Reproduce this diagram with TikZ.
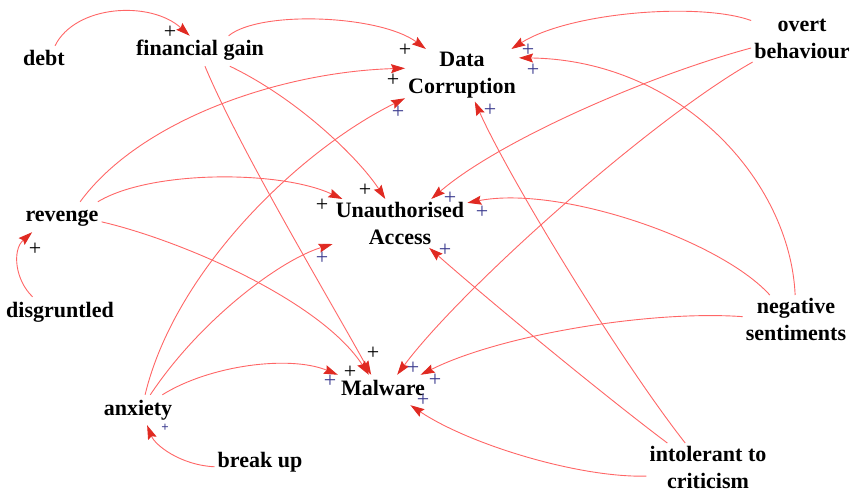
\documentclass[tikz,border=0pt]{standalone}
\usepackage{fontspec}
\setmainfont{Liberation Serif}
\usetikzlibrary{arrows.meta}
\usepackage{xcolor}
\definecolor{cldlink}{HTML}{FF6666}
\definecolor{cldhead}{HTML}{E02A22}
\definecolor{cldpos}{HTML}{3B3B8F}

\begin{document}
\begin{tikzpicture}[
    x=1pt, y=-1pt,
    cld-var/.style={font=\fontsize{22}{27}\selectfont\bfseries,
        inner xsep=3pt, inner ysep=5pt, text height=15pt, text depth=5pt, anchor=base},
    cld-var2/.style={font=\fontsize{22}{27}\selectfont\bfseries, align=center,
        inner xsep=3pt, inner ysep=3pt, anchor=north},
    cld-link/.style={draw=cldlink, line width=0.9pt,
        -{Stealth[length=14pt, width=9pt, inset=2pt, color=cldhead]}},
    cld-sign/.style={font=\fontsize{22}{22}\selectfont, inner sep=0pt},
    cld-sign-b/.style={cld-sign, text=cldpos},
]
    \useasboundingbox (0,0) rectangle (852,492);

    % ---- NODES: variables ----
    \node[cld-var] (debt) at (44,66) {debt};
    \node[cld-var] (fgain) at (200,56) {financial gain};
    \node[cld-var2] (dc) at (462,49) {Data\\Corruption};
    \node[cld-var2] (ob) at (802,16) {overt\\behaviour};
    \node[cld-var] (rev) at (62,222) {revenge};
    \node[cld-var2] (ua) at (400,199) {Unauthorised\\Access};
    \node[cld-var] (dis) at (60,317) {disgruntled};
    \node[cld-var2] (ns) at (796,295) {negative\\sentiments};
    \node[cld-var] (anx) at (138,415) {anxiety};
    \node[cld-var] (mal) at (383,395) {Malware};
    \node[cld-var] (bu) at (260,467) {break up};
    \node[cld-var2] (itc) at (708,443) {intolerant to\\criticism};

    % ---- ARROWS: into financial gain, revenge, anxiety ----
    \draw[cld-link] (debt.54) .. controls (75,5) and (150,0) .. (fgain.124);
    \draw[cld-link] (dis.151) .. controls (15,280) and (12,250) .. (rev.207);
    \draw[cld-link] (bu.186) .. controls (180,465) and (155,445) .. (anx.301);

    % ---- ARROWS: into Data Corruption ----
    \draw[cld-link] (fgain.28) .. controls (260,10) and (380,15) .. (dc.144);
    \draw[cld-link] (rev.40) .. controls (140,120) and (280,72) .. (dc.173);
    \draw[cld-link] (anx.65) .. controls (175,270) and (300,150) .. (dc.202);
    \draw[cld-link] (ob.160) .. controls (700,2) and (570,12) .. (dc.28);
    \draw[cld-link] (ns.92) .. controls (790,180) and (680,60) .. (dc.17);
    \draw[cld-link] (itc.133) .. controls (620,360) and (510,180) .. (dc.296);

    % ---- ARROWS: into Unauthorised Access ----
    \draw[cld-link] (fgain.333) .. controls (300,100) and (360,160) .. (ua.121);
    \draw[cld-link] (rev.23) .. controls (150,170) and (280,170) .. (ua.157);
    \draw[cld-link] (anx.51) .. controls (200,320) and (280,260) .. (ua.197);
    \draw[cld-link] (ob.190) .. controls (650,75) and (500,140) .. (ua.38);
    \draw[cld-link] (ns.137) .. controls (720,240) and (560,185) .. (ua.17);
    \draw[cld-link] (itc.149) .. controls (610,400) and (500,310) .. (ua.320);

    % ---- ARROWS: into Malware ----
    \draw[cld-link] (fgain.288) .. controls (240,150) and (330,300) .. (mal.128);
    \draw[cld-link] (rev.353) .. controls (180,240) and (320,300) .. (mal.133);
    \draw[cld-link] (anx.32) .. controls (210,365) and (290,355) .. (mal.north west);
    \draw[cld-link] (ob.205) .. controls (650,120) and (460,290) .. (mal.47);
    \draw[cld-link] (ns.177) .. controls (650,310) and (500,335) .. (mal.22);
    \draw[cld-link] (itc.188) .. controls (580,478) and (470,445) .. (mal.331);

    % ---- POLARITY SIGNS ----
    \node[cld-sign] (s1) at (170,32) {+};
    \node[cld-sign] (s2) at (405,50) {+};
    \node[cld-sign] (s3) at (393,80) {+};
    \node[cld-sign] (s4) at (365,190) {+};
    \node[cld-sign] (s5) at (322,205) {+};
    \node[cld-sign] (s6) at (373,353) {+};
    \node[cld-sign] (s7) at (350,372) {+};
    \node[cld-sign] (s8) at (35,249) {+};
    \node[cld-sign-b] (s9) at (398,112) {+};
    \node[cld-sign-b] (s10) at (528,50) {+};
    \node[cld-sign-b] (s11) at (533,70) {+};
    \node[cld-sign-b] (s12) at (490,110) {+};
    \node[cld-sign-b] (s13) at (450,198) {+};
    \node[cld-sign-b] (s14) at (482,212) {+};
    \node[cld-sign-b] (s15) at (322,258) {+};
    \node[cld-sign-b] (s16) at (445,250) {+};
    \node[cld-sign-b] (s17) at (330,381) {+};
    \node[cld-sign-b] (s18) at (413,368) {+};
    \node[cld-sign-b] (s19) at (435,380) {+};
    \node[cld-sign-b] (s20) at (423,400) {+};
    \node[cld-sign-b, font=\fontsize{13}{13}\selectfont\bfseries] (s21) at (165,428) {+};

\end{tikzpicture}
\end{document}
